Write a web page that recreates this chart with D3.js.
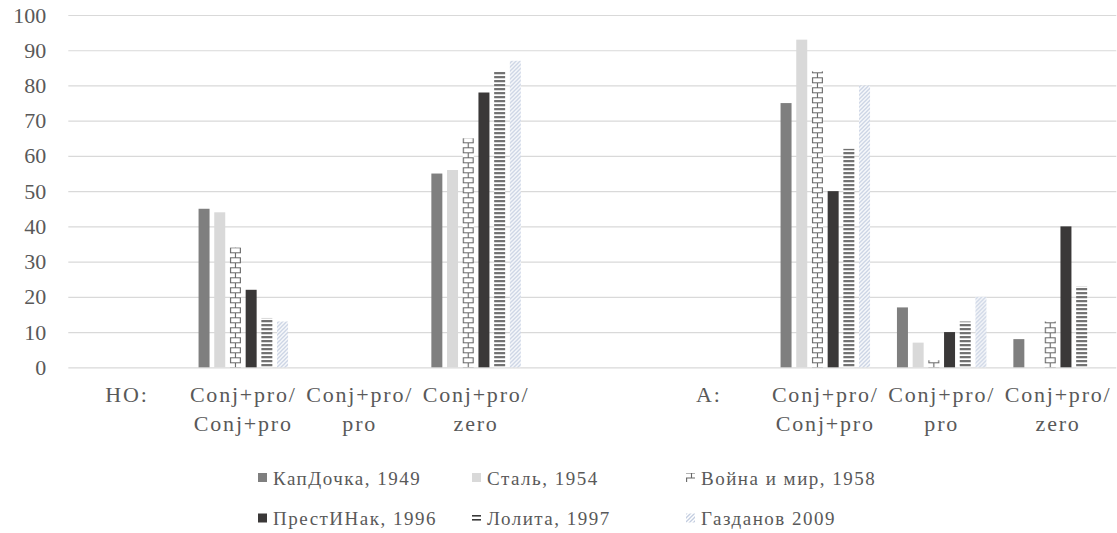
<!DOCTYPE html>
<html>
<head>
<meta charset="utf-8">
<script src="https://cdn.jsdelivr.net/npm/d3@7"></script>
<style>
  body { margin: 0; background: #fff; }
  svg text { fill: #595959; }
</style>
</head>
<body>
<script>
// chart data
const catLine1 = ["НО:", "Conj+pro/", "Conj+pro/", "Conj+pro/", "", "А:", "Conj+pro/", "Conj+pro/", "Conj+pro/"];
const catLine2 = ["", "Conj+pro", "pro", "zero", "", "", "Conj+pro", "pro", "zero"];

const seriesNames = ["КапДочка, 1949", "Сталь, 1954", "Война и мир, 1958", "ПрестИНак, 1996", "Лолита, 1997", "Газданов 2009"];
const kapDochka = [0, 45, 0, 55, 0, 0, 75, 17, 8];
const stal      = [0, 44, 0, 56, 0, 0, 93, 7, 0];
const voina     = [0, 34, 0, 65, 0, 0, 84, 2, 13];
const prestInak = [0, 22, 0, 78, 0, 0, 50, 10, 40];
const lolita    = [0, 14, 0, 84, 0, 0, 62, 13, 23];
const gazdanov  = [0, 13, 0, 87, 0, 0, 80, 20, 0];
const yTicks = [0, 10, 20, 30, 40, 50, 60, 70, 80, 90, 100];

const seriesValues = [kapDochka, stal, voina, prestInak, lolita, gazdanov];

// size of the picture
const width = 1117;
const height = 533;
const serif = "'Liberation Serif', 'Times New Roman', 'DejaVu Serif', serif";

const svg = d3.select("body").append("svg")
  .attr("width", width)
  .attr("height", height)
  .style("font-family", serif);

// scales
const x0 = d3.scaleBand()
  .domain(d3.range(catLine1.length))
  .range([68.7, 1116.3]);

const x1 = d3.scaleBand()
  .domain(d3.range(seriesNames.length))
  .range([0, x0.bandwidth()])
  .paddingInner(0.3)
  .paddingOuter(0.857);

const y = d3.scaleLinear()
  .domain([0, 100])
  .range([367.3, 15]);

const bw = x1.bandwidth();

// fill patterns
const defs = svg.append("defs");

// brick pattern for Война и мир
const brick = defs.append("pattern")
  .attr("id", "brick")
  .attr("patternUnits", "userSpaceOnUse")
  .attr("width", bw)
  .attr("height", 10);
brick.append("rect").attr("width", bw).attr("height", 10).attr("fill", "#fff");
brick.append("path")
  .attr("d", `M0,0.5H${bw} M0,5.5H${bw} M0.6,0.5V5.5 M${bw - 0.6},0.5V5.5 M${bw / 2},5.5V10`)
  .attr("stroke", "#666")
  .attr("stroke-width", 1.1)
  .attr("fill", "none");

// horizontal lines for Лолита
const hlines = defs.append("pattern")
  .attr("id", "hlines")
  .attr("patternUnits", "userSpaceOnUse")
  .attr("width", 8)
  .attr("height", 4);
hlines.append("rect").attr("width", 8).attr("height", 4).attr("fill", "#fff");
hlines.append("rect").attr("y", 1).attr("width", 8).attr("height", 1.6).attr("fill", "#3a3a3a");

// light diagonal hatch for Газданов
const diag = defs.append("pattern")
  .attr("id", "diag")
  .attr("patternUnits", "userSpaceOnUse")
  .attr("width", 4)
  .attr("height", 4);
diag.append("rect").attr("width", 4).attr("height", 4).attr("fill", "#fff");
diag.append("path")
  .attr("d", "M-1,1L1,-1 M0,4L4,0 M3,5L5,3")
  .attr("stroke", "#c3cde0")
  .attr("stroke-width", 1.3);

const fills = ["#7f7f7f", "#d9d9d9", "url(#brick)", "#3a3838", "url(#hlines)", "url(#diag)"];

// gridlines and y labels
const yAxis = svg.append("g")
  .attr("transform", "translate(68.3,0)")
  .call(d3.axisLeft(y)
    .tickValues(yTicks)
    .tickSize(-(1116.3 - 68.3))
    .tickPadding(22));
yAxis.attr("font-family", serif).attr("font-size", 22);
yAxis.select(".domain").remove();
yAxis.selectAll(".tick line").attr("stroke", "#d9d9d9").attr("stroke-width", 1.2);
yAxis.selectAll(".tick text").attr("fill", "#595959");

// bars
const groups = svg.append("g").selectAll("g")
  .data(d3.range(catLine1.length))
  .join("g")
  .attr("transform", i => `translate(${x0(i)},0)`);

groups.selectAll("g")
  .data(i => seriesValues.map((vals, s) => ({ s: s, v: vals[i] })))
  .join("g")
  .attr("transform", d => `translate(${x1(d.s)},${y(0)})`)
  .append("rect")
  .attr("x", 0)
  .attr("y", d => y(d.v) - y(0))
  .attr("width", bw)
  .attr("height", d => y(0) - y(d.v))
  .attr("fill", d => fills[d.s]);

// category labels
const xLabels = svg.append("g").selectAll("text")
  .data(d3.range(catLine1.length))
  .join("text")
  .attr("x", i => x0(i) + x0.bandwidth() / 2)
  .attr("y", 402)
  .attr("text-anchor", "middle")
  .attr("font-size", 22)
  .attr("letter-spacing", 1.8);
xLabels.append("tspan")
  .attr("x", i => x0(i) + x0.bandwidth() / 2)
  .text(i => catLine1[i]);
xLabels.append("tspan")
  .attr("x", i => x0(i) + x0.bandwidth() / 2)
  .attr("dy", 28.5)
  .text(i => catLine2[i]);

// legend
const legendX = [258, 472, 686];
const legendY = [477.5, 518];

const legend = svg.append("g").selectAll("g")
  .data(seriesNames)
  .join("g")
  .attr("transform", (d, i) => `translate(${legendX[i % 3]},${legendY[Math.floor(i / 3)]})`);

legend.append("rect")
  .attr("x", 0)
  .attr("y", -4.5)
  .attr("width", 9)
  .attr("height", 9)
  .attr("fill", (d, i) => fills[i]);

legend.append("text")
  .attr("x", 15)
  .attr("y", 7)
  .attr("font-size", 19)
  .attr("letter-spacing", 1.5)
  .text(d => d);
</script>
</body>
</html>
